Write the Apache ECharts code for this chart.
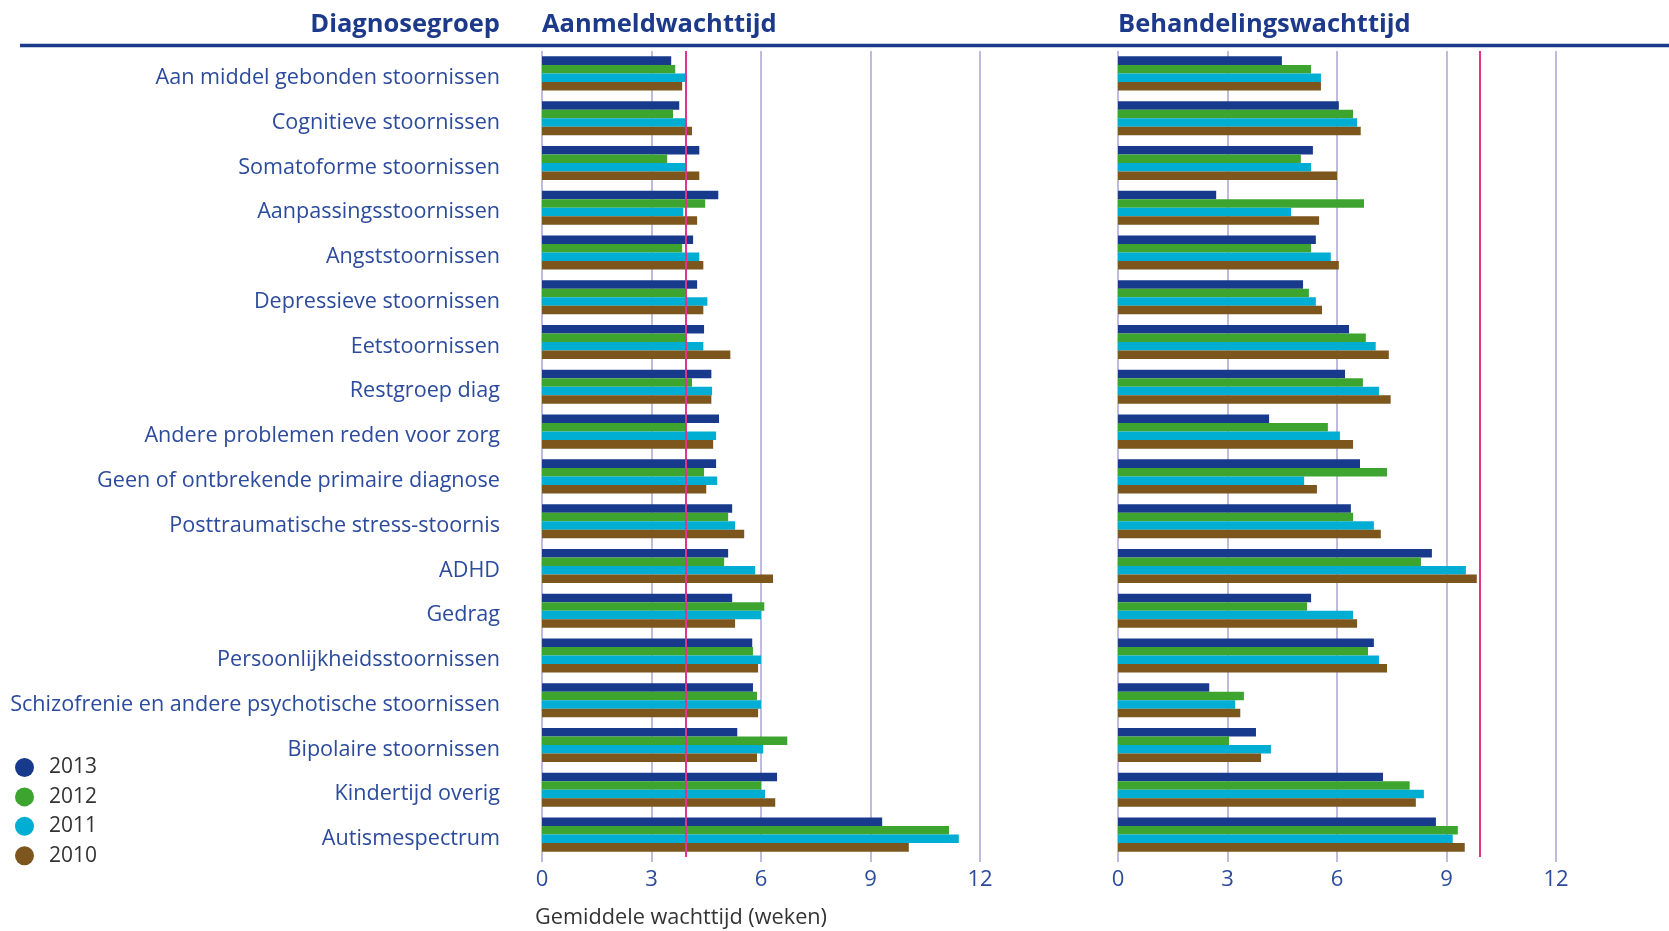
<!DOCTYPE html>
<html lang="nl">
<head>
    <meta charset="UTF-8">
    <title>Wachttijden per diagnosegroep</title>
    <style type="text/css">
        html, body {height: 100%; margin: 0; background: #ffffff;}
    </style>
</head>
<body>
    <div id="container_1" style="width: 1669px; height: 931px;"></div>
    <script type="text/javascript" src="https://cdn.jsdelivr.net/npm/echarts@6/dist/echarts.min.js"></script>
    <script type="text/javascript">
        var categories = [
            'Aan middel gebonden stoornissen', 'Cognitieve stoornissen', 'Somatoforme stoornissen',
            'Aanpassingsstoornissen', 'Angststoornissen', 'Depressieve stoornissen', 'Eetstoornissen',
            'Restgroep diag', 'Andere problemen reden voor zorg', 'Geen of ontbrekende primaire diagnose',
            'Posttraumatische stress-stoornis', 'ADHD', 'Gedrag', 'Persoonlijkheidsstoornissen',
            'Schizofrenie en andere psychotische stoornissen', 'Bipolaire stoornissen',
            'Kindertijd overig', 'Autismespectrum'
        ];
        var years = ['2013', '2012', '2011', '2010'];
        var xTicks = [0, 3, 6, 9, 12];

        // aanmeldwachttijd (weken)
        var aanmeld2013 = [3.54, 3.76, 4.31, 4.83, 4.14, 4.25, 4.44, 4.64, 4.85, 4.77, 5.21, 5.10, 5.21, 5.76, 5.78, 5.35, 6.44, 9.32];
        var aanmeld2012 = [3.65, 3.59, 3.43, 4.47, 3.84, 3.97, 3.97, 4.11, 3.97, 4.44, 5.10, 4.99, 6.09, 5.78, 5.89, 6.72, 6.00, 11.15];
        var aanmeld2011 = [3.93, 3.97, 3.97, 3.87, 4.31, 4.53, 4.42, 4.66, 4.77, 4.80, 5.29, 5.84, 6.00, 6.00, 6.00, 6.06, 6.11, 11.42];
        var aanmeld2010 = [3.84, 4.11, 4.31, 4.25, 4.42, 4.42, 5.16, 4.64, 4.69, 4.50, 5.54, 6.33, 5.29, 5.92, 5.92, 5.89, 6.39, 10.05];

        // behandelingswachttijd (weken)
        var behandel2013 = [4.49, 6.05, 5.34, 2.69, 5.42, 5.07, 6.33, 6.22, 4.14, 6.63, 6.38, 8.60, 5.29, 7.01, 2.50, 3.78, 7.26, 8.71];
        var behandel2012 = [5.29, 6.44, 5.01, 6.74, 5.29, 5.23, 6.79, 6.71, 5.75, 7.37, 6.44, 8.30, 5.18, 6.85, 3.45, 3.04, 7.99, 9.31];
        var behandel2011 = [5.56, 6.55, 5.29, 4.74, 5.83, 5.42, 7.06, 7.15, 6.08, 5.10, 7.01, 9.53, 6.44, 7.15, 3.21, 4.19, 8.38, 9.17];
        var behandel2010 = [5.56, 6.65, 6.00, 5.51, 6.05, 5.59, 7.42, 7.47, 6.44, 5.45, 7.20, 9.83, 6.55, 7.37, 3.35, 3.92, 8.16, 9.50];

        // treeknormen (rode lijnen)
        var aanmeldNorm = 3.93;
        var behandelNorm = 9.91;

        var colors = ['#183a8c', '#3da42f', '#00aed3', '#7d561d'];
        var blueText = '#2c4b9c';
        var gridColor = '#a9a5d2';
        var font = 'Open Sans';

        var aanmeld = [aanmeld2013, aanmeld2012, aanmeld2011, aanmeld2010];
        var behandel = [behandel2013, behandel2012, behandel2011, behandel2010];

        function xAxisFor(gridIndex) {
            return {
                type: 'value', gridIndex: gridIndex,
                min: xTicks[0], max: xTicks[xTicks.length - 1], interval: 3,
                axisLine: {show: false},
                axisTick: {show: true, length: 5, lineStyle: {color: gridColor, width: 1.5}},
                splitLine: {show: true, lineStyle: {color: gridColor, width: 1.5}},
                axisLabel: {color: blueText, fontFamily: font, fontSize: 22, margin: 12}
            };
        }

        function yAxisFor(gridIndex, showLabels) {
            return {
                type: 'category', gridIndex: gridIndex, data: categories, inverse: true,
                axisLine: {show: false}, axisTick: {show: false},
                axisLabel: {
                    show: showLabels, margin: 42,
                    formatter: function (v) { return '{c|' + v + '}'; },
                    rich: {c: {color: blueText, fontFamily: font, fontSize: 21.6, padding: [9, 0, 0, 0]}}
                }
            };
        }

        function barSeries(values, axisIndex, norm) {
            return values.map(function (d, i) {
                var s = {
                    name: years[i], type: 'bar', data: d,
                    xAxisIndex: axisIndex, yAxisIndex: axisIndex,
                    barGap: '0%', barCategoryGap: '24%',
                    itemStyle: {color: colors[i]},
                    silent: true
                };
                if (i === 0) {
                    s.markLine = {
                        silent: true, symbol: 'none', label: {show: false},
                        lineStyle: {color: '#e2338e', width: 2, type: 'solid'},
                        data: [{xAxis: norm}]
                    };
                }
                return s;
            });
        }

        var titleStyle = {color: '#1d3a8a', fontFamily: font, fontSize: 25.5, fontWeight: 'bold'};

        var dom = document.getElementById('container_1');
        var myChart = echarts.init(dom, null, {renderer: 'canvas'});
        var option = {
            animation: false,
            backgroundColor: '#ffffff',
            title: [
                {text: 'Diagnosegroep', right: 1169, top: 12, padding: 0, textStyle: titleStyle},
                {text: 'Aanmeldwachttijd', left: 542, top: 12, padding: 0, textStyle: titleStyle},
                {text: 'Behandelingswachttijd', left: 1118, top: 12, padding: 0, textStyle: titleStyle},
                {text: 'Gemiddele wachttijd (weken)', left: 535, top: 907, padding: 0,
                    textStyle: {color: '#333333', fontFamily: font, fontSize: 21.7, fontWeight: 'normal'}}
            ],
            legend: {
                data: years, orient: 'vertical', left: 10, top: 752,
                icon: 'circle', itemWidth: 19, itemHeight: 19, itemGap: 8.4,
                selectedMode: false,
                textStyle: {color: '#333333', fontFamily: font, fontSize: 21, padding: [0, 0, 0, 10]}
            },
            graphic: [{
                type: 'line', silent: true,
                shape: {x1: 20, y1: 45.5, x2: 1669, y2: 45.5},
                style: {stroke: '#1d3a8a', lineWidth: 3.5}
            }],
            grid: [
                {left: 542, right: 689, top: 51, bottom: 74},
                {left: 1118, right: 113, top: 51, bottom: 74}
            ],
            xAxis: [xAxisFor(0), xAxisFor(1)],
            yAxis: [yAxisFor(0, true), yAxisFor(1, false)],
            series: barSeries(aanmeld, 0, aanmeldNorm).concat(barSeries(behandel, 1, behandelNorm))
        };
        myChart.setOption(option);
    </script>
</body>
</html>
